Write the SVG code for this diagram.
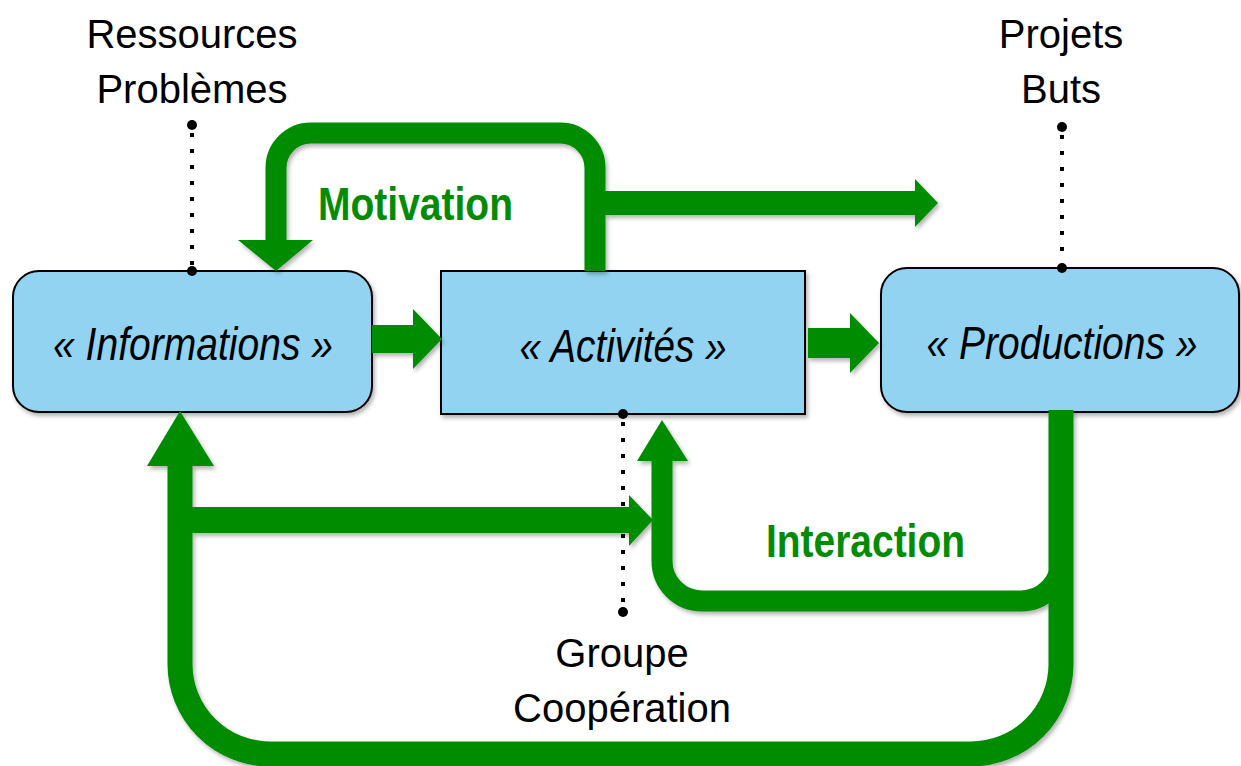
<svg xmlns="http://www.w3.org/2000/svg" width="1241" height="766" viewBox="0 0 1241 766">
  <style>
    .box { fill: #91d3f0; stroke: #000; stroke-width: 2; }
    .lbl { font-family: "Liberation Sans", Arial, sans-serif; font-size: 46px; font-style: italic; fill: #000; text-anchor: middle; }
    .note { font-family: "Liberation Sans", Arial, sans-serif; font-size: 40px; fill: #000; text-anchor: middle; }
    .tag { font-family: "Liberation Sans", Arial, sans-serif; font-size: 46px; font-weight: bold; fill: #038c03; }
    .flow { fill: none; stroke: #038c03; }
    .head { fill: #038c03; }
    .dots { stroke: #000; stroke-width: 4; stroke-dasharray: 4 12; fill: none; }
  </style>
  <defs>
    <filter id="shadow" x="-10%" y="-10%" width="130%" height="130%">
      <feDropShadow dx="2" dy="3" stdDeviation="2" flood-color="#000" flood-opacity="0.3"/>
    </filter>
  </defs>
  <rect width="1241" height="766" fill="#fff"/>

  <!-- dotted leader lines to the side notes -->
  <g id="leaders">
    <line class="dots" x1="192" y1="133" x2="192" y2="266"/>
    <circle cx="192" cy="125" r="5"/>
    <line class="dots" x1="1062" y1="135" x2="1062" y2="263"/>
    <circle cx="1062" cy="127" r="5"/>
    <line class="dots" x1="623" y1="422" x2="623" y2="606"/>
    <circle cx="623" cy="612" r="5"/>
  </g>

  <!-- nodes -->
  <g id="informations" filter="url(#shadow)">
    <rect class="box" x="13" y="271" width="359" height="141" rx="26"/>
  </g>
  <g id="activites" filter="url(#shadow)">
    <rect class="box" x="441" y="271" width="364" height="143"/>
  </g>
  <g id="productions" filter="url(#shadow)">
    <rect class="box" x="881" y="268" width="358" height="144" rx="26"/>
  </g>
  <g id="dot-anchors">
    <circle cx="192" cy="271" r="5"/>
    <circle cx="1062" cy="268" r="5"/>
    <circle cx="623" cy="414" r="5"/>
  </g>
  <text class="lbl" x="193" y="360" textLength="280" lengthAdjust="spacingAndGlyphs">« Informations »</text>
  <text class="lbl" x="623" y="362" textLength="207" lengthAdjust="spacingAndGlyphs">« Activités »</text>
  <text class="lbl" x="1062" y="359" textLength="271" lengthAdjust="spacingAndGlyphs">« Productions »</text>

  <!-- connectors -->
  <g id="connectors" filter="url(#shadow)">
    <!-- big return loop: Productions back to Informations -->
    <path class="flow" stroke-width="25" d="M1061,410 V664 A90,90 0 0 1 971,754 H270 A90,90 0 0 1 180,664 V464"/>
    <polygon class="head" points="147,466 214,466 180,411"/>
    <!-- branch towards Activités -->
    <rect class="head" x="181" y="507" width="449" height="26"/>
    <polygon class="head" points="629,495 629,546 653,520"/>
    <!-- Interaction loop -->
    <path class="flow" stroke-width="21" d="M1061,561 A40,40 0 0 1 1021,601 H702 A40,40 0 0 1 662,561 V460"/>
    <polygon class="head" points="637,461 688,461 662,420"/>
    <!-- Motivation loop -->
    <path class="flow" stroke-width="21" d="M595,271 V168 A35,35 0 0 0 560,133 H311 A35,35 0 0 0 276,168 V241"/>
    <polygon class="head" points="238,240 313,240 276,271"/>
    <rect class="head" x="597" y="191" width="319" height="24"/>
    <polygon class="head" points="915,179 915,227 938,203"/>
    <!-- straight links between boxes -->
    <rect class="head" x="372" y="325" width="42" height="28"/>
    <polygon class="head" points="413,309 413,369 442,339"/>
    <rect class="head" x="808" y="328" width="43" height="30"/>
    <polygon class="head" points="850,313 850,373 879,343"/>
  </g>

  <!-- loop labels -->
  <text class="tag" x="318" y="220" textLength="195" lengthAdjust="spacingAndGlyphs">Motivation</text>
  <text class="tag" x="766" y="557" textLength="199" lengthAdjust="spacingAndGlyphs">Interaction</text>

  <!-- side notes -->
  <text class="note" x="192" y="48">Ressources</text>
  <text class="note" x="192" y="103">Problèmes</text>
  <text class="note" x="1061" y="48">Projets</text>
  <text class="note" x="1061" y="103">Buts</text>
  <text class="note" x="622" y="667">Groupe</text>
  <text class="note" x="622" y="722">Coopération</text>
</svg>
